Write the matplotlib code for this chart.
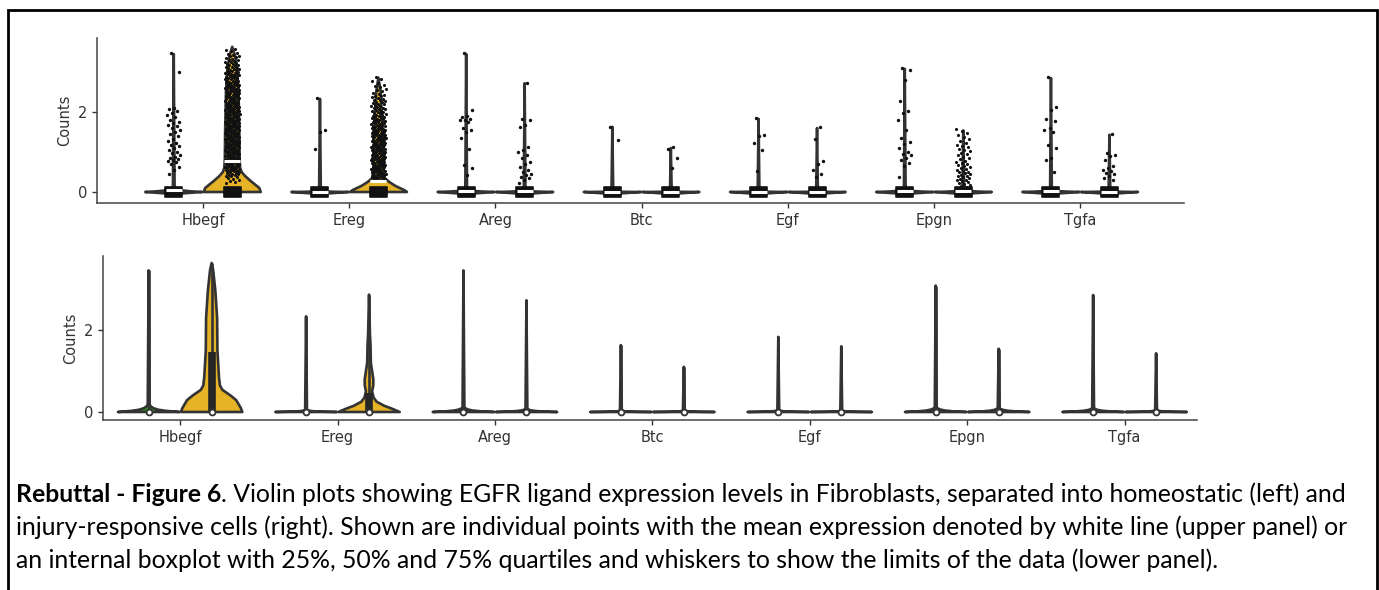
import matplotlib
matplotlib.use("Agg")
import matplotlib.pyplot as plt
import numpy as np
from matplotlib.lines import Line2D
from matplotlib.patches import Rectangle

# ---- data ----
genes = ["Hbegf", "Ereg", "Areg", "Btc", "Egf", "Epgn", "Tgfa"]
home_max = [3.45, 2.33, 3.45, 1.63, 1.83, 3.08, 2.85]
inj_max = [3.63, 2.86, 2.72, 1.10, 1.60, 1.54, 1.43]

# height of the spike at zero for the mostly-zero violins
home_peak = [0.19, 0.05, 0.12, 0.03, 0.04, 0.12, 0.10]
inj_peak = [0.0, 0.0, 0.08, 0.03, 0.03, 0.10, 0.04]

# mean expression (white line, upper panel)
home_mean = [0.04, 0.01, 0.03, 0.01, 0.01, 0.03, 0.02]
inj_mean = [0.78, 0.28, 0.03, 0.01, 0.01, 0.03, 0.01]

# quartiles for the inner box (lower panel), median is 0 everywhere
inj_q3 = [1.45, 0.47, 0.0, 0.0, 0.0, 0.0, 0.0]

# shaped violins for the two expressed injury groups
hbegf_inj_y_up = [0.0, 0.1, 0.28, 0.4, 0.5, 0.6, 0.8, 1.5, 2.5, 3.0, 3.4, 3.63]
hbegf_inj_w_up = [1.0, 0.95, 0.64, 0.45, 0.33, 0.28, 0.26, 0.25, 0.22, 0.18, 0.10, 0.0]
ereg_inj_y_up = [0.0, 0.05, 0.15, 0.25, 0.3, 0.35, 0.6, 1.5, 2.5, 2.86]
ereg_inj_w_up = [1.0, 0.9, 0.6, 0.38, 0.3, 0.22, 0.18, 0.15, 0.08, 0.0]

hbegf_inj_y_lo = [0.0, 0.1, 0.29, 0.4, 0.54, 0.65, 0.85, 1.5, 2.3, 2.97, 3.46, 3.63]
hbegf_inj_w_lo = [1.0, 0.95, 0.8, 0.62, 0.35, 0.27, 0.24, 0.19, 0.18, 0.12, 0.05, 0.0]
ereg_inj_y_lo = [0.0, 0.08, 0.15, 0.25, 0.35, 0.5, 0.65, 0.8, 1.0, 1.2, 1.6, 1.9, 2.86]
ereg_inj_w_lo = [1.0, 0.75, 0.5, 0.25, 0.15, 0.1, 0.14, 0.14, 0.1, 0.06, 0.05, 0.03, 0.0]

# individual expressing cells (upper panel)
home_points = [
    [3.47, 3.0, 2.1, 2.07, 2.02, 1.98, 1.93, 1.88, 1.8, 1.75, 1.72, 1.68, 1.64, 1.6,
     1.55, 1.5, 1.45, 1.4, 1.33, 1.28, 1.22, 1.18, 1.15, 1.1, 1.05, 1.0, 0.97, 0.92,
     0.88, 0.85, 0.82, 0.8, 0.78, 0.75, 0.7, 0.62, 0.55, 0.45],
    [2.35, 1.55, 1.5, 1.08],
    [3.47, 2.05, 1.9, 1.87, 1.83, 1.8, 1.8, 1.75, 1.6, 1.55, 1.5, 1.35, 1.08, 0.68, 0.6, 0.42],
    [1.63, 1.3],
    [1.85, 1.43, 1.4, 1.23, 1.05, 0.53],
    [3.1, 3.05, 2.8, 2.27, 2.03, 1.97, 1.8, 1.55, 1.35, 1.25, 1.2, 1.1, 1.0, 0.95,
     0.92, 0.85, 0.8, 0.72, 0.65, 0.38],
    [2.87, 2.12, 2.05, 1.82, 1.78, 1.6, 1.55, 1.5, 1.17, 1.1, 0.85, 0.8, 0.5],
]
inj_points = [
    [],
    [],
    [2.72, 1.82, 1.8, 1.67, 1.62, 1.13, 1.05, 1.0, 0.92, 0.85, 0.76, 0.7, 0.63, 0.55,
     0.5, 0.45, 0.42, 0.38, 0.35, 0.3, 0.22],
    [1.12, 1.08, 0.85, 0.6],
    [1.62, 1.32, 0.78, 0.7, 0.55, 0.45, 0.38],
    [],
    [1.45, 0.97, 0.92, 0.9, 0.8, 0.65, 0.6, 0.55, 0.52, 0.48, 0.45, 0.4, 0.35, 0.3],
]
# dense groups given as cell counts per 0.1 bin
hbegf_bins = [0.2, 0.3, 0.4, 0.5, 0.6, 0.7, 0.8, 0.9, 1.0, 1.1, 1.2, 1.3, 1.4, 1.5, 1.6,
              1.7, 1.8, 1.9, 2.0, 2.1, 2.2, 2.3, 2.4, 2.5, 2.6, 2.7, 2.8, 2.9, 3.0,
              3.1, 3.2, 3.3, 3.4, 3.5]
hbegf_counts = [3, 5, 8, 10, 12, 13, 13, 13, 13, 13, 13, 13, 13, 12, 12,
                12, 12, 11, 11, 10, 10, 10, 10, 10, 10, 9, 9, 9, 8,
                7, 6, 5, 4, 3]
ereg_bins = [0.3, 0.4, 0.5, 0.6, 0.7, 0.8, 0.9, 1.0, 1.1, 1.2, 1.3, 1.4, 1.5, 1.6,
             1.7, 1.8, 1.9, 2.0, 2.1, 2.2, 2.3, 2.4, 2.5, 2.6, 2.7, 2.8]
ereg_counts = [10, 11, 10, 10, 10, 10, 10, 10, 10, 10, 10, 10, 10, 9,
               9, 8, 7, 7, 6, 6, 5, 4, 3, 3, 2, 2]
epgn_bins = [0.1, 0.2, 0.3, 0.4, 0.5, 0.6, 0.7, 0.8, 0.9, 1.0, 1.1, 1.2, 1.3, 1.4, 1.5]
epgn_counts = [4, 5, 5, 5, 4, 4, 4, 3, 3, 3, 3, 2, 2, 2, 2]
dense = {0: (hbegf_bins, hbegf_counts), 1: (ereg_bins, ereg_counts), 5: (epgn_bins, epgn_counts)}

GREEN = "#2a8a1e"
YELLOW = "#e6b326"
EDGE = "#333333"
HW = 0.195       # half width of one violin
OFF = 0.2        # dodge offset

# generic spike-at-zero profile (relative)
spike_y = [0.0, 0.15, 0.3, 0.5, 0.75, 1.0]
spike_w = [1.0, 0.55, 0.3, 0.15, 0.06, 0.03]


def draw_violin(ax, c, ys, ws, color):
    ys = np.asarray(ys, float)
    ws = np.maximum(np.asarray(ws, float), 0.0) * HW
    xs = np.concatenate([c - ws, (c + ws)[::-1]])
    yy = np.concatenate([ys, ys[::-1]])
    ax.fill(xs, yy, facecolor=color, edgecolor=EDGE, linewidth=1.9, zorder=2,
            joinstyle="round")


def spike_profile(peak, vmax, below=0.0):
    ys = [-below] + [peak * v for v in spike_y] + [vmax]
    ws = [0.0 if below > 0 else 1.0] + spike_w + [0.0]
    if below == 0:
        ys, ws = ys[1:], ws[1:]
    return ys, ws


def jitter(n, width, phase=0.0):
    k = np.arange(n)
    return ((k * 0.618034 + phase) % 1.0 - 0.5) * 2 * width


def style(ax, xlim, ylim):
    ax.set_xlim(*xlim)
    ax.set_ylim(*ylim)
    for s in ("top", "right"):
        ax.spines[s].set_visible(False)
    for s in ("left", "bottom"):
        ax.spines[s].set_color("#444444")
        ax.spines[s].set_linewidth(1.1)
    ax.set_xticks(range(len(genes)))
    ax.set_xticklabels(genes)
    ax.set_yticks([0, 2])
    ax.tick_params(labelsize=10.5, colors="#333333", length=3.5, width=1.0)
    ax.set_ylabel("Counts", fontsize=10.5, color="#333333")


fig = plt.figure(figsize=(13.79, 5.90), dpi=100)
W, H = 1379, 590

# ---- upper panel: violins + points + mean ----
ax1 = fig.add_axes([97 / W, 1 - 203 / H, (1184 - 97) / W, (203 - 38) / H])
for i, g in enumerate(genes):
    ch, ci = i - OFF, i + OFF
    ys, ws = spike_profile(home_peak[i] * 0.7, home_max[i], below=0.05)
    draw_violin(ax1, ch, ys, ws, GREEN)
    if i == 0:
        draw_violin(ax1, ci, hbegf_inj_y_up, hbegf_inj_w_up, YELLOW)
    elif i == 1:
        draw_violin(ax1, ci, ereg_inj_y_up, ereg_inj_w_up, YELLOW)
    else:
        ys, ws = spike_profile(inj_peak[i] * 0.7, inj_max[i], below=0.05)
        draw_violin(ax1, ci, ys, ws, YELLOW)

    # scattered expressing cells
    hp = np.asarray(home_points[i])
    ax1.scatter(ch + jitter(len(hp), 0.045, 0.3), hp, s=6, c="#111111",
                linewidths=0, zorder=3)
    if i in dense:
        bins, counts = dense[i]
        yv = np.concatenate([b + (np.arange(n) + 0.5) / n * 0.1
                             for b, n in zip(bins, counts)])
        ax1.scatter(ci + jitter(len(yv), 0.05, 0.1), yv, s=5, c="#111111",
                    linewidths=0, zorder=3)
    ip = np.asarray(inj_points[i])
    if len(ip):
        ax1.scatter(ci + jitter(len(ip), 0.045, 0.7), ip, s=6, c="#111111",
                    linewidths=0, zorder=3)

    # cluster of zero-count cells and mean line
    for c, m in ((ch, home_mean[i]), (ci, inj_mean[i])):
        ax1.add_patch(Rectangle((c - 0.058, -0.13), 0.116, 0.26, facecolor="#111111",
                                edgecolor="#111111", linewidth=1.2, zorder=3,
                                joinstyle="round"))
        ax1.plot([c - 0.055, c + 0.055], [m, m], color="white", linewidth=2.2,
                 solid_capstyle="butt", zorder=4)
style(ax1, (-0.725, 6.71), (-0.275, 3.85))

# ---- lower panel: violins with inner box ----
ax2 = fig.add_axes([103 / W, 1 - 420 / H, (1197 - 103) / W, (420 - 256) / H])
for i, g in enumerate(genes):
    ch, ci = i - OFF, i + OFF
    ys, ws = spike_profile(home_peak[i], home_max[i])
    draw_violin(ax2, ch, ys, ws, GREEN)
    if i == 0:
        draw_violin(ax2, ci, hbegf_inj_y_lo, hbegf_inj_w_lo, YELLOW)
    elif i == 1:
        draw_violin(ax2, ci, ereg_inj_y_lo, ereg_inj_w_lo, YELLOW)
    else:
        ys, ws = spike_profile(inj_peak[i], inj_max[i])
        draw_violin(ax2, ci, ys, ws, YELLOW)

    for c, vmax, q3 in ((ch, home_max[i], 0.0), (ci, inj_max[i], inj_q3[i])):
        ax2.plot([c, c], [0, vmax], color=EDGE, linewidth=1.9, zorder=3,
                 solid_capstyle="butt")
        if q3 > 0:
            ax2.plot([c, c], [0, q3], color="#262626", linewidth=5.5, zorder=3,
                     solid_capstyle="butt")
        ax2.scatter([c], [0], s=18, facecolor="white", edgecolor=EDGE,
                    linewidths=1.3, zorder=4)
style(ax2, (-0.49, 6.46), (-0.195, 3.8))

# ---- caption ----
cap_bold = "Rebuttal - Figure 6"
cap_lines = [
    ". Violin plots showing EGFR ligand expression levels in Fibroblasts, separated into homeostatic (left) and",
    "injury-responsive cells (right). Shown are individual points with the mean expression denoted by white line (upper panel) or",
    "an internal boxplot with 25%, 50% and 75% quartiles and whiskers to show the limits of the data (lower panel).",
]
cap_y = [494, 527, 560]
x0 = 16 / W
fam = ["Lato", "DejaVu Sans"]
tb = fig.text(x0, 1 - cap_y[0] / H, cap_bold, fontsize=14, fontweight="bold",
              family=fam, va="center", ha="left")
t1 = fig.text(x0, 1 - cap_y[0] / H, cap_lines[0], fontsize=14, family=fam,
              va="center", ha="left")
t2 = fig.text(x0, 1 - cap_y[1] / H, cap_lines[1], fontsize=14, family=fam,
              va="center", ha="left")
t3 = fig.text(x0, 1 - cap_y[2] / H, cap_lines[2], fontsize=14, family=fam,
              va="center", ha="left")
fig.canvas.draw()
r = fig.canvas.get_renderer()
wid = tb.get_window_extent(r).width + t1.get_window_extent(r).width
fs = 14 * (1352 - 16) / wid
for t in (tb, t1, t2, t3):
    t.set_fontsize(fs)
fig.canvas.draw()
bx = tb.get_window_extent(r).x1
t1.set_x(bx / W)

# ---- frame around figure ----
fx0, fx1, fy = 8 / W, 1377 / W, 1 - 10 / H
fig.add_artist(Line2D([fx0, fx0, fx1, fx1], [0, fy, fy, 0], transform=fig.transFigure,
                      color="black", linewidth=2.0, solid_joinstyle="miter"))

fig.savefig("out.png", dpi=100)
